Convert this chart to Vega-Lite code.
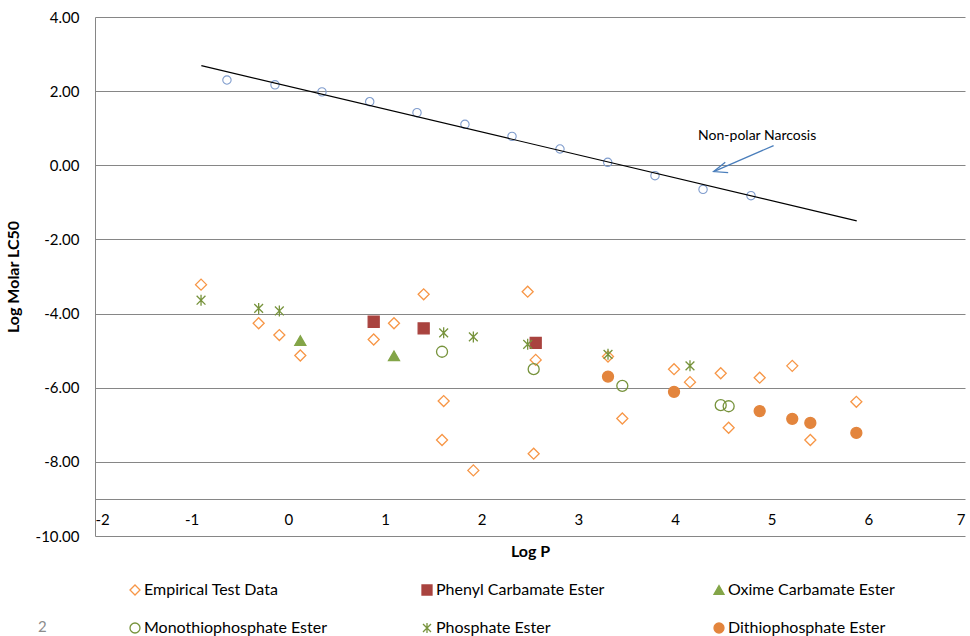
{
  "$schema": "https://vega.github.io/schema/vega-lite/v6.json",
  "width": 870,
  "height": 519,
  "autosize": "none",
  "padding": {"left": 95, "top": 17, "right": 5, "bottom": 100},
  "title": {"text": "2", "orient": "bottom", "anchor": "start", "frame": "group", "fontSize": 15, "fontWeight": "normal", "color": "#8c8c8c", "font": "Lato", "dx": -57, "dy": -16, "offset": 0},
  "config": {
    "font": "Lato",
    "view": {"stroke": null},
    "legend": {"labelFont": "Lato", "labelFontSize": 16, "labelColor": "#000000"}
  },
  "datasets": {
    "narcosis": [
      {"logP": -0.635, "lc50": 2.30}, {"logP": -0.138, "lc50": 2.17}, {"logP": 0.348, "lc50": 1.98},
      {"logP": 0.842, "lc50": 1.715}, {"logP": 1.331, "lc50": 1.42}, {"logP": 1.827, "lc50": 1.105},
      {"logP": 2.314, "lc50": 0.78}, {"logP": 2.81, "lc50": 0.44}, {"logP": 3.304, "lc50": 0.08},
      {"logP": 3.793, "lc50": -0.28}, {"logP": 4.29, "lc50": -0.65}, {"logP": 4.786, "lc50": -0.82}
    ],
    "trend": [{"logP": -0.90, "lc50": 2.69}, {"logP": 5.88, "lc50": -1.50}],
    "arrow": [
      {"seg": "shaft", "ord": 1, "logP": 5.02, "lc50": 0.53},
      {"seg": "shaft", "ord": 2, "logP": 4.40, "lc50": -0.17},
      {"seg": "head", "ord": 1, "logP": 4.55, "lc50": -0.20},
      {"seg": "head", "ord": 2, "logP": 4.40, "lc50": -0.17},
      {"seg": "head", "ord": 3, "logP": 4.52, "lc50": 0.08}
    ],
    "note": [{"logP": 4.85, "lc50": 0.80, "text": "Non-polar Narcosis"}],
    "tox": [
      {"series": "Empirical Test Data", "logP": -0.903, "lc50": -3.22},
      {"series": "Empirical Test Data", "logP": -0.307, "lc50": -4.26},
      {"series": "Empirical Test Data", "logP": -0.093, "lc50": -4.58},
      {"series": "Empirical Test Data", "logP": 0.124, "lc50": -5.13},
      {"series": "Empirical Test Data", "logP": 0.883, "lc50": -4.70},
      {"series": "Empirical Test Data", "logP": 1.093, "lc50": -4.26},
      {"series": "Empirical Test Data", "logP": 1.40, "lc50": -3.48},
      {"series": "Empirical Test Data", "logP": 1.607, "lc50": -6.36},
      {"series": "Empirical Test Data", "logP": 1.59, "lc50": -7.41},
      {"series": "Empirical Test Data", "logP": 1.914, "lc50": -8.23},
      {"series": "Empirical Test Data", "logP": 2.476, "lc50": -3.41},
      {"series": "Empirical Test Data", "logP": 2.559, "lc50": -5.25},
      {"series": "Empirical Test Data", "logP": 2.538, "lc50": -7.78},
      {"series": "Empirical Test Data", "logP": 3.307, "lc50": -5.16},
      {"series": "Empirical Test Data", "logP": 3.455, "lc50": -6.83},
      {"series": "Empirical Test Data", "logP": 3.99, "lc50": -5.50},
      {"series": "Empirical Test Data", "logP": 4.155, "lc50": -5.85},
      {"series": "Empirical Test Data", "logP": 4.473, "lc50": -5.61},
      {"series": "Empirical Test Data", "logP": 4.555, "lc50": -7.08},
      {"series": "Empirical Test Data", "logP": 4.876, "lc50": -5.73},
      {"series": "Empirical Test Data", "logP": 5.213, "lc50": -5.41},
      {"series": "Empirical Test Data", "logP": 5.40, "lc50": -7.41},
      {"series": "Empirical Test Data", "logP": 5.876, "lc50": -6.38},
      {"series": "Phenyl Carbamate Ester", "logP": 0.883, "lc50": -4.22},
      {"series": "Phenyl Carbamate Ester", "logP": 1.40, "lc50": -4.40},
      {"series": "Phenyl Carbamate Ester", "logP": 2.559, "lc50": -4.79},
      {"series": "Oxime Carbamate Ester", "logP": 0.124, "lc50": -4.73},
      {"series": "Oxime Carbamate Ester", "logP": 1.093, "lc50": -5.14},
      {"series": "Monothiophosphate Ester", "logP": 1.59, "lc50": -5.03},
      {"series": "Monothiophosphate Ester", "logP": 2.538, "lc50": -5.50},
      {"series": "Monothiophosphate Ester", "logP": 3.455, "lc50": -5.95},
      {"series": "Monothiophosphate Ester", "logP": 4.473, "lc50": -6.47},
      {"series": "Monothiophosphate Ester", "logP": 4.555, "lc50": -6.50},
      {"series": "Phosphate Ester", "logP": -0.903, "lc50": -3.64},
      {"series": "Phosphate Ester", "logP": -0.307, "lc50": -3.86},
      {"series": "Phosphate Ester", "logP": -0.093, "lc50": -3.93},
      {"series": "Phosphate Ester", "logP": 1.607, "lc50": -4.52},
      {"series": "Phosphate Ester", "logP": 1.914, "lc50": -4.63},
      {"series": "Phosphate Ester", "logP": 2.476, "lc50": -4.83},
      {"series": "Phosphate Ester", "logP": 3.307, "lc50": -5.10},
      {"series": "Phosphate Ester", "logP": 4.155, "lc50": -5.41},
      {"series": "Dithiophosphate Ester", "logP": 3.307, "lc50": -5.70},
      {"series": "Dithiophosphate Ester", "logP": 3.99, "lc50": -6.11},
      {"series": "Dithiophosphate Ester", "logP": 4.876, "lc50": -6.63},
      {"series": "Dithiophosphate Ester", "logP": 5.213, "lc50": -6.84},
      {"series": "Dithiophosphate Ester", "logP": 5.40, "lc50": -6.95},
      {"series": "Dithiophosphate Ester", "logP": 5.876, "lc50": -7.22}
    ]
  },
  "layer": [
    {
      "data": {"name": "narcosis"},
      "mark": {"type": "point", "shape": "circle", "size": 70, "filled": false, "stroke": "#7F9CCD", "strokeWidth": 1.1, "opacity": 1},
      "encoding": {
        "x": {
          "field": "logP", "type": "quantitative",
          "scale": {"domain": [-2, 7], "nice": false, "zero": false},
          "axis": {
            "values": [-2, -1, 0, 1, 2, 3, 4, 5, 6, 7],
            "labelExpr": "(datum.value < 0 ? '-' : '') + format(abs(datum.value), 'd')",
            "offset": -37, "grid": false, "ticks": false, "tickSize": 0,
            "domainColor": "#868686", "domainWidth": 1,
            "labelFont": "Lato", "labelFontSize": 15, "labelColor": "#000000", "labelPadding": 13,
            "title": "Log P", "titleFont": "Lato", "titleFontSize": 16, "titleFontWeight": "bold", "titleColor": "#000000", "titlePadding": 16
          }
        },
        "y": {
          "field": "lc50", "type": "quantitative",
          "scale": {"domain": [-10, 4], "nice": false, "zero": false},
          "axis": {
            "values": [-10, -8, -6, -4, -2, 0, 2, 4],
            "labelExpr": "(datum.value < 0 ? '-' : '') + format(abs(datum.value), '.2f')",
            "grid": true, "gridColor": "#868686", "gridWidth": 1,
            "ticks": false, "tickSize": 0,
            "domainColor": "#868686", "domainWidth": 1,
            "labelFont": "Lato", "labelFontSize": 15, "labelColor": "#000000", "labelPadding": 16,
            "title": "Log Molar LC50", "titleFont": "Lato", "titleFontSize": 16, "titleFontWeight": "bold", "titleColor": "#000000", "titlePadding": 14
          }
        }
      }
    },
    {
      "data": {"name": "trend"},
      "mark": {"type": "line", "color": "#000000", "strokeWidth": 1.2},
      "encoding": {
        "x": {"field": "logP", "type": "quantitative"},
        "y": {"field": "lc50", "type": "quantitative"}
      }
    },
    {
      "data": {"name": "arrow"},
      "mark": {"type": "line", "color": "#4A7EBB", "strokeWidth": 1.3},
      "encoding": {
        "x": {"field": "logP", "type": "quantitative"},
        "y": {"field": "lc50", "type": "quantitative"},
        "detail": {"field": "seg", "type": "nominal"},
        "order": {"field": "ord", "type": "quantitative"}
      }
    },
    {
      "data": {"name": "note"},
      "mark": {"type": "text", "font": "Lato", "fontSize": 14, "color": "#000000", "align": "center", "baseline": "middle"},
      "encoding": {
        "x": {"field": "logP", "type": "quantitative"},
        "y": {"field": "lc50", "type": "quantitative"},
        "text": {"field": "text", "type": "nominal"}
      }
    },
    {
      "data": {"name": "tox"},
      "mark": {"type": "point", "size": 121, "strokeWidth": 1.3, "opacity": 1},
      "encoding": {
        "x": {"field": "logP", "type": "quantitative"},
        "y": {"field": "lc50", "type": "quantitative"},
        "shape": {
          "field": "series", "type": "nominal",
          "scale": {
            "domain": ["Empirical Test Data", "Phenyl Carbamate Ester", "Oxime Carbamate Ester", "Monothiophosphate Ester", "Phosphate Ester", "Dithiophosphate Ester"],
            "range": ["diamond", "square", "triangle-up", "circle", "M-0.8,-0.8L0.8,0.8M-0.8,0.8L0.8,-0.8M0,-1L0,1", "circle"]
          },
          "legend": {
            "title": null, "orient": "none", "legendX": 32, "legendY": 565,
            "direction": "horizontal", "columns": 3, "gridAlign": "all",
            "columnPadding": 92, "rowPadding": 22, "symbolSize": 100, "labelOffset": 1,
            "symbolStrokeWidth": 1.3, "labelLimit": 300
          }
        },
        "stroke": {
          "field": "series", "type": "nominal",
          "scale": {
            "domain": ["Empirical Test Data", "Phenyl Carbamate Ester", "Oxime Carbamate Ester", "Monothiophosphate Ester", "Phosphate Ester", "Dithiophosphate Ester"],
            "range": ["#F79646", "#A9433F", "#83A548", "#77933C", "#77933C", "#E3853D"]
          },
          "legend": {
            "title": null, "orient": "none", "legendX": 32, "legendY": 565,
            "direction": "horizontal", "columns": 3, "gridAlign": "all",
            "columnPadding": 92, "rowPadding": 22, "symbolSize": 100, "labelOffset": 1,
            "symbolStrokeWidth": 1.3, "labelLimit": 300
          }
        },
        "fill": {
          "field": "series", "type": "nominal",
          "scale": {
            "domain": ["Empirical Test Data", "Phenyl Carbamate Ester", "Oxime Carbamate Ester", "Monothiophosphate Ester", "Phosphate Ester", "Dithiophosphate Ester"],
            "range": ["transparent", "#A9433F", "#83A548", "transparent", "transparent", "#E3853D"]
          },
          "legend": {
            "title": null, "orient": "none", "legendX": 32, "legendY": 565,
            "direction": "horizontal", "columns": 3, "gridAlign": "all",
            "columnPadding": 92, "rowPadding": 22, "symbolSize": 100, "labelOffset": 1,
            "symbolStrokeWidth": 1.3, "labelLimit": 300
          }
        }
      }
    }
  ]
}
